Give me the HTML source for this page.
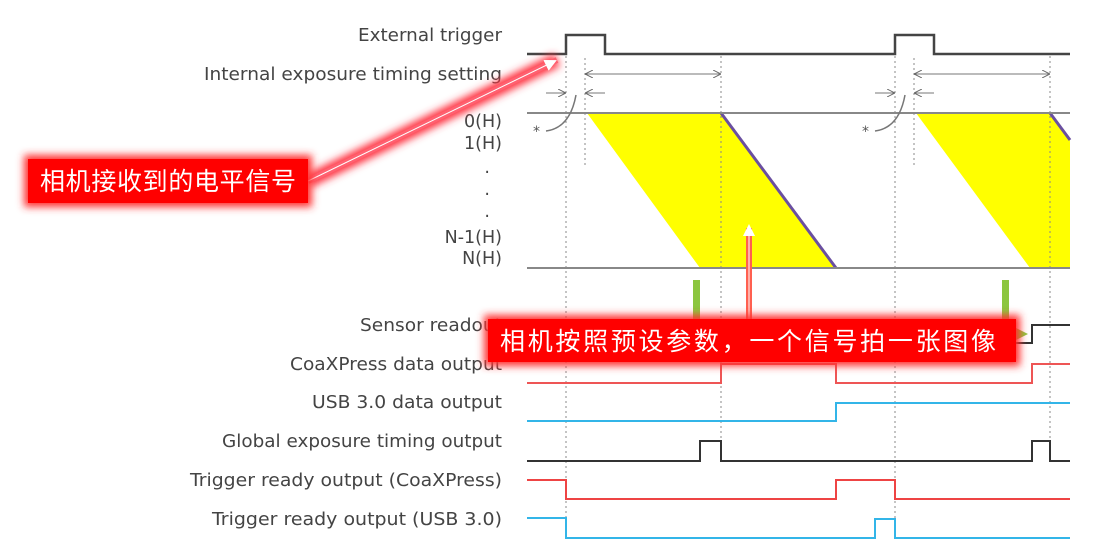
<!DOCTYPE html>
<html><head><meta charset="utf-8"><style>
html,body{margin:0;padding:0;background:#fff;width:1096px;height:559px;overflow:hidden}
svg{display:block}
.l{font-family:"DejaVu Sans","Liberation Sans",sans-serif;font-size:17.5px;fill:#444;text-anchor:end}
.c{font-family:"Liberation Sans","Noto Sans CJK SC",sans-serif;font-size:25px;fill:#fff}
</style></head><body>
<svg width="1096" height="559" viewBox="0 0 1096 559">
<defs>
<filter id="g" x="-20%" y="-50%" width="140%" height="200%"><feGaussianBlur stdDeviation="4"/></filter>
<marker id="ah" markerWidth="8" markerHeight="8" refX="7" refY="4" orient="auto" markerUnits="userSpaceOnUse"><path d="M0,0 L8,4 L0,8" fill="none" stroke="#666" stroke-width="1"/></marker>
<marker id="wa" markerWidth="12" markerHeight="12" refX="10" refY="6" orient="auto" markerUnits="userSpaceOnUse"><path d="M0,0 L12,6 L0,12 Z" fill="#fff"/></marker>
</defs>
<g class="l">
<text x="502" y="41" textLength="144" lengthAdjust="spacingAndGlyphs">External trigger</text>
<text x="502" y="80" textLength="298" lengthAdjust="spacingAndGlyphs">Internal exposure timing setting</text>
<text x="502" y="127">0(H)</text>
<text x="502" y="149">1(H)</text>
<text x="490" y="173">.</text>
<text x="490" y="195">.</text>
<text x="490" y="217">.</text>
<text x="502" y="243">N-1(H)</text>
<text x="502" y="264">N(H)</text>
<text x="502" y="331" textLength="142" lengthAdjust="spacingAndGlyphs">Sensor readout</text>
<text x="502" y="370" textLength="212" lengthAdjust="spacingAndGlyphs">CoaXPress data output</text>
<text x="502" y="408" textLength="190" lengthAdjust="spacingAndGlyphs">USB 3.0 data output</text>
<text x="502" y="447" textLength="280" lengthAdjust="spacingAndGlyphs">Global exposure timing output</text>
<text x="502" y="486" textLength="312" lengthAdjust="spacingAndGlyphs">Trigger ready output (CoaXPress)</text>
<text x="502" y="525" textLength="290" lengthAdjust="spacingAndGlyphs">Trigger ready output (USB 3.0)</text>
</g>
<polygon points="587,113 721,113 836,268 700,268" fill="#ffff00"/>
<line x1="721" y1="113" x2="836" y2="268" stroke="#6a4fa0" stroke-width="3"/>
<polygon points="916,113 1050,113 1070,140 1070,268 1030,268" fill="#ffff00"/>
<line x1="1050" y1="113" x2="1070" y2="140" stroke="#6a4fa0" stroke-width="3"/>
<g stroke="#888" stroke-width="1" stroke-dasharray="2,3">
<line x1="566" y1="56" x2="566" y2="540"/><line x1="585" y1="58" x2="585" y2="168"/>
<line x1="721" y1="56" x2="721" y2="460"/><line x1="895" y1="56" x2="895" y2="540"/>
<line x1="914" y1="58" x2="914" y2="168"/><line x1="1050" y1="56" x2="1050" y2="460"/>
</g>
<g stroke="#888" stroke-width="2"><line x1="527" y1="113" x2="1070" y2="113"/><line x1="527" y1="268" x2="1070" y2="268"/></g>
<polyline points="527,54 566,54 566,35 605,35 605,54 895,54 895,35 934,35 934,54 1070,54" fill="none" stroke="#444" stroke-width="2.5"/>
<g stroke="#777" stroke-width="1" fill="none">
<line x1="586" y1="74" x2="720" y2="74" marker-end="url(#ah)"/>
<line x1="720" y1="74" x2="586" y2="74" marker-end="url(#ah)"/>
<line x1="915" y1="74" x2="1049" y2="74" marker-end="url(#ah)"/>
<line x1="1049" y1="74" x2="915" y2="74" marker-end="url(#ah)"/>
<line x1="546" y1="93" x2="565" y2="93" marker-end="url(#ah)"/><line x1="605" y1="93" x2="586" y2="93" marker-end="url(#ah)"/>
<line x1="875" y1="93" x2="894" y2="93" marker-end="url(#ah)"/><line x1="934" y1="93" x2="915" y2="93" marker-end="url(#ah)"/>
<path d="M546,131 Q570,128 576,95" stroke-width="1.5"/><path d="M875,131 Q899,128 905,95" stroke-width="1.5"/>
</g>
<text x="533" y="136" font-size="14" fill="#555" font-family="DejaVu Sans">*</text>
<text x="862" y="136" font-size="14" fill="#555" font-family="DejaVu Sans">*</text>
<rect x="693" y="280" width="7" height="40" fill="#8cc63f"/>
<rect x="1002" y="280" width="7" height="40" fill="#8cc63f"/>
<polyline points="527,343 1032,343 1032,325 1070,325" fill="none" stroke="#333" stroke-width="2"/>
<polygon points="1016,328 1028,334 1016,340" fill="#8cc63f"/>
<polyline points="527,383 721,383 721,364 836,364 836,383 1032,383 1032,364 1070,364" fill="none" stroke="#ee5555" stroke-width="2"/>
<polyline points="527,421 836,421 836,403 1070,403" fill="none" stroke="#33b5e8" stroke-width="2"/>
<polyline points="527,461 700,461 700,441 721,441 721,461 1032,461 1032,441 1050,441 1050,461 1070,461" fill="none" stroke="#333" stroke-width="2"/>
<polyline points="527,480 566,480 566,499 836,499 836,480 895,480 895,499 1070,499" fill="none" stroke="#ee4444" stroke-width="2"/>
<polyline points="527,518 566,518 566,538 875,538 875,519 895,519 895,538 1070,538" fill="none" stroke="#33b5e8" stroke-width="2"/>
<line x1="308" y1="181" x2="557" y2="60" stroke="#ff3040" stroke-width="14" filter="url(#g)"/>
<line x1="308" y1="181" x2="557" y2="60" stroke="#ff6070" stroke-width="6"/>
<line x1="308" y1="181" x2="555" y2="61" stroke="#fff" stroke-width="1" marker-end="url(#wa)"/>
<rect x="24" y="155" width="288" height="52" fill="#ff3030" filter="url(#g)"/>
<rect x="28" y="159" width="280" height="44" fill="#ff0000"/>
<text class="c" x="40" y="190" textLength="256">相机接收到的电平信号</text>
<line x1="749" y1="320" x2="749" y2="228" stroke="#ff3020" stroke-width="14" filter="url(#g)"/>
<line x1="749" y1="320" x2="749" y2="228" stroke="#ff6050" stroke-width="6"/>
<line x1="749" y1="320" x2="749" y2="226" stroke="#fff" stroke-width="1" marker-end="url(#wa)"/>
<rect x="484" y="315" width="536" height="51" fill="#ff3030" filter="url(#g)"/>
<rect x="488" y="319" width="528" height="43" fill="#ff0000"/>
<text class="c" x="500" y="350" textLength="496">相机按照预设参数，一个信号拍一张图像</text>
</svg>
</body></html>
